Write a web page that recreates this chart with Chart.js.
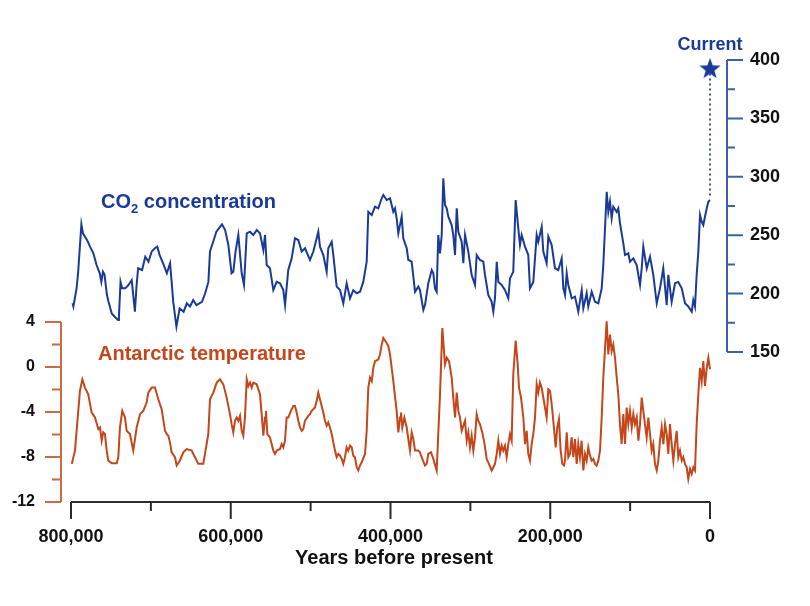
<!DOCTYPE html>
<html>
<head>
<meta charset="utf-8">
<title>CO2 and Antarctic temperature, 800,000 years</title>
<script src="https://cdn.jsdelivr.net/npm/chart.js@4.4.1/dist/chart.umd.min.js"></script>
<style>
  html, body { margin: 0; padding: 0; background: #fff; }
  #chart { display: block; }
</style>
</head>
<body>
<canvas id="chart" width="810" height="606"></canvas>
<script>
// years before present, in thousands (oldest first)
const co2Years = [
  798, 797, 793, 791, 787, 785, 780, 776, 772, 768, 764, 762, 760, 758, 755, 753, 749, 745, 741, 740,
  738, 736, 732, 728, 724, 720, 718, 716, 711, 707, 703, 699, 695, 692, 689, 684, 680, 676, 674, 672,
  668, 664, 659, 655, 651, 647, 643, 636, 632, 628, 626, 622, 618, 611, 607, 603, 599, 596.8, 594, 590.5,
  586.3, 583.4, 580, 575.9, 571.8, 567.5, 563.4, 559.2, 557.1, 555, 550.9, 546.7, 542.5, 538.3, 534.2, 532, 528, 523.7, 519.6, 515.4,
  511.2, 507, 500.8, 496.6, 490.4, 488.3, 484.1, 479.9, 477.9, 473.6, 471.6, 467.4, 463.2, 459.1, 454.9, 450.7, 446.6, 442.3, 438.2, 434.1,
  429.8, 427.8, 423.5, 419.4, 415.3, 411, 409, 404.8, 400.6, 396.5, 394.4, 392.3, 390.2, 386, 384, 379.7, 377.7, 373.5, 369.3, 365.2,
  363.1, 358.9, 356.8, 352.7, 348.4, 346.4, 344.3, 342.2, 340.2, 338, 335.9, 333.9, 331.8, 329.6, 327.6, 323.4, 321.4, 319.2, 317.1, 315.1,
  310.9, 308.8, 306.7, 302.6, 298.4, 294.2, 292.1, 288, 283.8, 281.7, 277.6, 273.3, 271.3, 269.2, 267, 265, 260.8, 256.6, 252.5, 250.4,
  246.3, 243.3, 240, 237.9, 235.8, 231.6, 227.5, 225.4, 221.2, 217, 215, 210.7, 208.7, 204.5, 202.4, 198.2, 194.1, 189.9, 185.7, 183.6,
  181.5, 179.4, 177.4, 173.1, 169, 164.9, 160.6, 158.6, 154.4, 152.4, 148.1, 144, 139.8, 135.6, 133.6, 129.3, 127.3, 125.2, 123.1, 121.1,
  116.8, 114.8, 112.7, 108.5, 106.4, 102.3, 100.2, 96, 91.8, 87.6, 85.5, 83.5, 79.2, 75.1, 71, 66.7, 62.6, 58.5, 54.2, 52.2,
  48, 43.8, 39.7, 35.4, 31.3, 27.2, 22.9, 20.9, 18.8, 16.7, 14.6, 12.5, 10.4, 8.4, 4.1, 2.1, 0
];
// CO2, ppmv
const co2Values = [
  191.7, 189, 204.5, 218.7, 259.3, 251.6, 246, 240, 234.5, 224.5, 217.4, 210, 218.7, 216, 198.8, 193, 183, 180, 177.4, 180,
  210, 204.5, 204.5, 207.4, 211.6, 184.5, 206, 221.7, 220.2, 231.6, 227.3, 236, 238.8, 240.2, 233, 224.5, 217.4, 226, 210, 193,
  171.7, 187.4, 184.5, 191.7, 189, 194.5, 190.2, 193, 200.3, 210, 236, 244.4, 253, 259.3, 254.4, 241.6, 217.4, 218.7, 236, 250.2,
  217.4, 207.4, 251.6, 253, 250.2, 254.4, 251.6, 237.3, 250.2, 224.5, 221.7, 203, 210, 208.8, 203, 190.2, 220.2, 230.2, 247.3, 245.9,
  236, 238.8, 228.8, 236, 253, 240.2, 233, 218.7, 238.8, 244.4, 233, 206, 203, 191.7, 208.8, 196, 203, 200.3, 201.6, 210,
  227.3, 270, 267.3, 274.4, 273, 281.6, 284.4, 280.1, 281.6, 270, 273, 264.5, 251.6, 265.9, 247.3, 238.8, 228.8, 227.3, 201.6, 206,
  203, 186, 190.2, 208.8, 220.2, 217.4, 204.5, 201.6, 250.2, 234.5, 250.2, 298.7, 275.8, 273, 265.9, 258.7, 250.2, 233, 273, 253,
  244.4, 226, 250.2, 236, 216, 207.4, 233, 228.8, 227.3, 216, 198.8, 193, 184.5, 196, 227.3, 210, 207.4, 203, 196, 213,
  218.7, 280.1, 255.9, 241.6, 250.2, 240.2, 233, 204.5, 210, 250.2, 244.4, 257.3, 236, 226, 248.8, 241.6, 221.7, 220.2, 230.2, 204.5,
  198.8, 217.4, 207.4, 196, 197.4, 184.5, 203, 187.4, 200.3, 189, 201.6, 193, 191.7, 204.5, 224.5, 287.2, 270, 278.7, 264.5, 274.4,
  270, 273, 260.2, 243, 233, 234.5, 227.3, 230.2, 224.5, 207.4, 221.7, 240.2, 221.7, 231.6, 216, 191.7, 204.5, 221.7, 190.2, 216,
  193, 208.8, 210, 204.5, 191.7, 189, 184.5, 194.5, 189, 216, 236, 267.3, 261.6, 258.7, 273, 278.7, 280.1
];

const tempYears = [
  799, 795, 791.6, 788.8, 785.8, 782.5, 778.4, 774.1, 770, 765.8, 763.7, 761.6, 759.6, 757.5, 755.3, 753.3, 749, 742.8, 740.8, 738.7,
  735.8, 732.4, 730.3, 726.2, 722, 717.8, 713.6, 709.5, 705.3, 703.2, 699, 694.9, 690.7, 686.5, 682.3, 680.2, 678.2, 676.1, 674, 669.8,
  667.7, 663.6, 659.4, 655.2, 648.9, 644.8, 640.6, 634.4, 628.1, 626, 621.8, 617.6, 613.5, 609.3, 605.1, 601, 598.9, 596.8, 594.7, 592.6,
  590.5, 588.4, 586.3, 584.3, 582.2, 580, 578, 575.9, 573.8, 571.8, 567.5, 563.4, 561.3, 559.2, 557.1, 555.9, 554.2, 550.9, 548.8, 546.7,
  544.6, 542.5, 538.4, 536.3, 534.2, 532.1, 530, 528, 523.7, 521.7, 519.6, 517.5, 515.4, 513.3, 511.2, 509.2, 507.1, 502.9, 500.8, 498.7,
  494.5, 492.4, 490.4, 488.3, 486.2, 484.1, 482, 479.9, 477.9, 475.8, 473.6, 471.6, 469.5, 467.4, 465.4, 463.2, 461.1, 459.1, 457, 454.9,
  452.9, 450.7, 448.6, 446.6, 444.5, 442.3, 440.3, 438.2, 436.1, 431.9, 429.8, 427.8, 425.7, 423.5, 421.5, 419.4, 415.3, 413.2, 411, 409,
  404.8, 402.7, 400.6, 398.5, 396.5, 392.3, 390.2, 388.1, 386.9, 385.2, 382.7, 379.7, 377.7, 375.6, 373.5, 371.4, 369.3, 365.2, 363.1, 361,
  356.8, 354.7, 352.7, 349.3, 346.4, 342.2, 340.2, 338, 335.1, 331.8, 329.6, 326.8, 323.4, 321.4, 319.2, 317.1, 315.1, 313, 310.9, 306.7,
  304.6, 302.6, 300.5, 298.4, 296.3, 294.2, 292.1, 290.1, 288, 285.1, 282.6, 279.6, 277.6, 273.3, 269.2, 267, 265, 262.9, 260.8, 258.8,
  256.7, 254.6, 252.5, 250.4, 248.3, 246.3, 243.3, 240.8, 239.1, 236.6, 233.7, 231.6, 229.5, 227.5, 225.4, 223.3, 221.2, 219.1, 217, 215,
  212.9, 210.8, 206.6, 204.5, 202.4, 200.3, 198.2, 195, 193.2, 191.2, 189.1, 187, 184.9, 182.8, 181.5, 179.4, 177.4, 175.3, 173.2, 171.1,
  169, 166.9, 164.9, 162.8, 160.7, 158.6, 156.5, 154.4, 152.4, 150.2, 148.1, 146.1, 144, 141.9, 139.8, 137.7, 135.6, 133.6, 129.4, 127.3,
  125.2, 123.1, 121.1, 118.9, 116.8, 114.8, 112.7, 110.6, 108.5, 106.4, 104.3, 102.3, 100.2, 98, 96, 93.9, 91.8, 89.7, 87.6, 85.5,
  83.5, 81.4, 79.3, 77.2, 75.1, 73, 71, 68.9, 66.7, 64.7, 62.6, 60.5, 58.4, 56.3, 54.2, 52.2, 50.1, 48, 45.9, 43.8,
  41.7, 39.7, 37.6, 35.4, 33.4, 31.3, 29.2, 27.2, 25, 22.9, 20.9, 18.8, 16.7, 14.6, 12.5, 10.4, 8.4, 6.3, 4.1, 2.1, 0
];
// temperature anomaly, degrees C
const tempValues = [
  -8.61, -7.43, -4.49, -2.13, -1.10, -1.83, -2.42, -4.05, -4.49, -5.52, -5.37, -6.55, -5.81, -5.96, -7.43, -8.32, -8.55, -8.55, -8.02, -5.37,
  -3.90, -4.49, -5.67, -5.96, -7.43, -5.37, -4.19, -3.90, -3.16, -2.28, -1.83, -1.83, -2.87, -3.75, -5.67, -5.96, -6.11, -6.70, -7.58, -8.02,
  -8.76, -8.32, -7.58, -7.29, -7.43, -8.02, -8.61, -8.61, -5.96, -2.87, -2.28, -1.39, -1.10, -1.54, -2.72, -4.19, -5.08, -5.81, -4.78, -4.49,
  -4.78, -4.34, -5.67, -6.11, -4.49, -1.10, -1.69, -1.39, -1.83, -1.39, -1.54, -2.42, -4.19, -6.11, -4.49, -3.90, -5.96, -6.26, -6.85, -7.43,
  -7.73, -7.43, -7.29, -6.85, -7.14, -6.55, -4.49, -4.49, -3.75, -3.46, -3.46, -4.05, -4.78, -5.37, -5.67, -5.52, -4.78, -4.34, -4.19, -3.90,
  -3.60, -3.01, -2.28, -2.87, -3.46, -4.05, -4.78, -5.22, -4.93, -5.37, -5.96, -6.70, -7.43, -8.02, -7.73, -7.88, -8.17, -8.61, -8.02, -7.14,
  -7.43, -6.99, -7.14, -7.88, -8.02, -8.91, -9.20, -8.76, -8.47, -7.73, -5.67, -1.83, -0.95, -1.25, -0.07, 0.52, 0.67, 1.11, 1.99, 2.59,
  2.14, 1.85, 1.11, -0.07, -1.25, -3.90, -5.81, -4.49, -4.05, -5.37, -4.49, -5.37, -6.40, -7.43, -5.81, -6.40, -7.43, -7.43, -7.58, -8.02,
  -8.76, -8.61, -7.73, -7.58, -8.17, -9.20, -5.96, -2.42, 3.47, 0.23, 0.82, 0.52, -0.95, -2.72, -4.49, -2.28, -3.90, -4.49, -5.67, -4.78,
  -6.55, -5.81, -7.14, -6.11, -7.43, -6.26, -4.19, -4.78, -5.08, -5.81, -6.70, -8.17, -8.47, -9.20, -8.61, -7.73, -6.55, -7.73, -7.00, -7.43,
  -7.00, -8.02, -6.85, -5.96, -6.55, -0.66, 2.35, 0.23, -1.83, -2.72, -4.49, -6.85, -5.67, -7.73, -8.32, -6.85, -5.96, -4.49, -1.54, -2.28,
  -1.39, -1.83, -3.60, -4.49, -1.98, -2.13, -3.31, -5.67, -7.14, -5.37, -4.63, -7.43, -8.61, -8.76, -8.32, -5.81, -8.02, -7.73, -6.26, -8.02,
  -6.40, -8.61, -6.85, -8.02, -6.55, -9.20, -7.73, -8.32, -7.14, -7.88, -8.32, -8.17, -8.61, -8.76, -8.32, -7.43, -4.49, -0.95, 4.06, 1.11,
  2.88, 1.41, 1.99, 0.82, -0.95, -2.42, -5.08, -6.85, -4.19, -6.85, -3.60, -5.08, -3.90, -5.37, -4.19, -5.08, -4.49, -6.55, -5.08, -2.72,
  -3.90, -5.08, -6.26, -4.49, -5.96, -7.43, -6.85, -8.61, -9.20, -8.32, -6.55, -5.37, -6.85, -5.08, -5.96, -7.73, -5.08, -6.85, -8.32, -6.85,
  -5.67, -8.02, -7.43, -8.32, -8.02, -8.61, -8.91, -9.94, -9.06, -9.50, -8.91, -9.20, -5.08, -2.42, -0.07, -1.25, 0.52, -1.69, -0.07, 0.82, -0.2
];

// present-day marker
const currentYear = 0;
const currentCo2 = 393;
const preIndustrialCo2 = 284;

// tick labels
const yearTicks = [0, 200, 400, 600, 800];
const tempTicks = [-12, -8, -4, 0, 4];
const co2Ticks = [150, 200, 250, 300, 350, 400];

const BLUE = '#1a3a98';
const BLUE_AXIS = '#3d60a8';
const ORANGE = '#c5461a';
const ORANGE_AXIS = '#cc6a44';
const FONT = "'Liberation Sans', Arial, Helvetica, sans-serif";

Chart.defaults.font.family = FONT;

// filled five point star for the "Current" marker
const starImg = document.createElement('canvas');
starImg.width = 24;
starImg.height = 24;
(function () {
  const c = starImg.getContext('2d');
  c.beginPath();
  for (let i = 0; i < 10; i++) {
    const r = i % 2 ? 4.6 : 11.2;
    const a = -Math.PI / 2 + i * Math.PI / 5;
    c.lineTo(12 + r * Math.cos(a), 13 + r * Math.sin(a));
  }
  c.closePath();
  c.fillStyle = BLUE;
  c.fill();
})();

function toPoints(xs, ys) {
  return xs.map((x, i) => ({ x: x, y: ys[i] }));
}

// hand drawn axis lines with long/short ticks, positioned through the scales
const axesPlugin = {
  id: 'axes',
  afterDraw(chart) {
    const ctx = chart.ctx;
    const area = chart.chartArea;
    const sx = chart.scales.x, sT = chart.scales.yT, sC = chart.scales.yC;
    ctx.save();
    ctx.lineCap = 'butt';

    // x axis
    ctx.strokeStyle = '#2b2b2b';
    ctx.lineWidth = 2;
    const y0 = area.bottom;
    ctx.beginPath();
    ctx.moveTo(sx.getPixelForValue(yearTicks[yearTicks.length - 1]), y0);
    ctx.lineTo(sx.getPixelForValue(yearTicks[0]), y0);
    for (let i = 0; i < yearTicks.length; i++) {
      const px = sx.getPixelForValue(yearTicks[i]);
      ctx.moveTo(px, y0); ctx.lineTo(px, y0 + 17);
      if (i < yearTicks.length - 1) {
        const mx = sx.getPixelForValue((yearTicks[i] + yearTicks[i + 1]) / 2);
        ctx.moveTo(mx, y0); ctx.lineTo(mx, y0 + 9);
      }
    }
    ctx.stroke();

    // left, temperature
    ctx.strokeStyle = ORANGE_AXIS;
    const xl = area.left;
    ctx.beginPath();
    ctx.moveTo(xl, sT.getPixelForValue(tempTicks[0]));
    ctx.lineTo(xl, sT.getPixelForValue(tempTicks[tempTicks.length - 1]));
    for (let i = 0; i < tempTicks.length; i++) {
      const py = sT.getPixelForValue(tempTicks[i]);
      ctx.moveTo(xl, py); ctx.lineTo(xl - 16, py);
      if (i < tempTicks.length - 1) {
        const my = sT.getPixelForValue((tempTicks[i] + tempTicks[i + 1]) / 2);
        ctx.moveTo(xl, my); ctx.lineTo(xl - 9, my);
      }
    }
    ctx.stroke();

    // right, CO2
    ctx.strokeStyle = BLUE_AXIS;
    const xr = area.right;
    ctx.beginPath();
    ctx.moveTo(xr, sC.getPixelForValue(co2Ticks[0]));
    ctx.lineTo(xr, sC.getPixelForValue(co2Ticks[co2Ticks.length - 1]));
    for (let i = 0; i < co2Ticks.length; i++) {
      const py = sC.getPixelForValue(co2Ticks[i]);
      ctx.moveTo(xr, py); ctx.lineTo(xr + 16, py);
      if (i < co2Ticks.length - 1) {
        const my = sC.getPixelForValue((co2Ticks[i] + co2Ticks[i + 1]) / 2);
        ctx.moveTo(xr, my); ctx.lineTo(xr + 8, my);
      }
    }
    ctx.stroke();
    ctx.restore();
  }
};

// series names and the "Current" note
const labelsPlugin = {
  id: 'labels',
  afterDraw(chart) {
    const ctx = chart.ctx;
    const sx = chart.scales.x, sC = chart.scales.yC;
    ctx.save();
    ctx.textBaseline = 'alphabetic';
    ctx.textAlign = 'left';

    ctx.fillStyle = BLUE;
    let x = 101;
    ctx.font = 'bold 20px ' + FONT;
    ctx.fillText('CO', x, 208);
    x += ctx.measureText('CO').width;
    ctx.font = 'bold 13px ' + FONT;
    ctx.fillText('2', x, 213);
    x += ctx.measureText('2').width;
    ctx.font = 'bold 20px ' + FONT;
    ctx.fillText(' concentration', x, 208);

    ctx.fillStyle = ORANGE;
    ctx.fillText('Antarctic temperature', 98, 360);

    ctx.fillStyle = BLUE;
    ctx.font = 'bold 18px ' + FONT;
    ctx.textAlign = 'center';
    ctx.fillText('Current', sx.getPixelForValue(currentYear), sC.getPixelForValue(currentCo2) - 18);
    ctx.restore();
  }
};

new Chart(document.getElementById('chart'), {
  type: 'line',
  data: {
    datasets: [
      {
        label: 'CO2 concentration',
        data: toPoints(co2Years, co2Values),
        yAxisID: 'yC',
        borderColor: BLUE,
        borderWidth: 2,
        pointRadius: 0,
        tension: 0
      },
      {
        label: 'Antarctic temperature',
        data: toPoints(tempYears, tempValues),
        yAxisID: 'yT',
        borderColor: ORANGE,
        borderWidth: 2,
        pointRadius: 0,
        tension: 0
      },
      {
        label: 'link',
        data: [{ x: currentYear, y: preIndustrialCo2 }, { x: currentYear, y: currentCo2 - 5 }],
        yAxisID: 'yC',
        borderColor: BLUE,
        borderWidth: 1.7,
        borderDash: [2, 3],
        pointRadius: 0
      },
      {
        label: 'Current',
        data: [{ x: currentYear, y: currentCo2 }],
        yAxisID: 'yC',
        showLine: false,
        pointStyle: starImg,
        pointRadius: 11,
        clip: false
      }
    ]
  },
  options: {
    responsive: false,
    animation: false,
    layout: { padding: { top: 60, left: 0, right: 0, bottom: 0 } },
    plugins: { legend: { display: false }, tooltip: { enabled: false } },
    scales: {
      x: {
        type: 'linear',
        reverse: true,
        min: -21.28,
        max: 812.52,
        grid: { display: false, drawTicks: false },
        border: { display: false },
        afterBuildTicks: s => { s.ticks = yearTicks.map(v => ({ value: v })); },
        afterFit: s => { s.height = 104; },
        ticks: {
          autoSkip: false,
          maxRotation: 0,
          padding: 24,
          color: '#111',
          font: { size: 18, weight: 'bold' },
          callback: v => (v * 1000).toLocaleString('en-US')
        },
        title: {
          display: true,
          text: 'Years before present',
          color: '#111',
          font: { size: 20, weight: 'bold' },
          padding: { top: 0, bottom: 36 }
        }
      },
      yT: {
        type: 'linear',
        position: 'left',
        min: -12,
        max: 27.29,
        grid: { display: false, drawTicks: false },
        border: { display: false },
        afterBuildTicks: s => { s.ticks = tempTicks.map(v => ({ value: v })); },
        afterFit: s => { s.width = 61; },
        ticks: {
          padding: 26,
          color: '#111',
          font: { size: 16, weight: 'bold' },
          callback: v => String(v)
        }
      },
      yC: {
        type: 'linear',
        position: 'right',
        min: 21.58,
        max: 400,
        grid: { display: false, drawTicks: false },
        border: { display: false },
        afterBuildTicks: s => { s.ticks = co2Ticks.map(v => ({ value: v })); },
        afterFit: s => { s.width = 83; },
        ticks: {
          padding: 23,
          color: '#111',
          font: { size: 18, weight: 'bold' },
          callback: v => String(v)
        }
      }
    }
  },
  plugins: [axesPlugin, labelsPlugin]
});
</script>
</body>
</html>
